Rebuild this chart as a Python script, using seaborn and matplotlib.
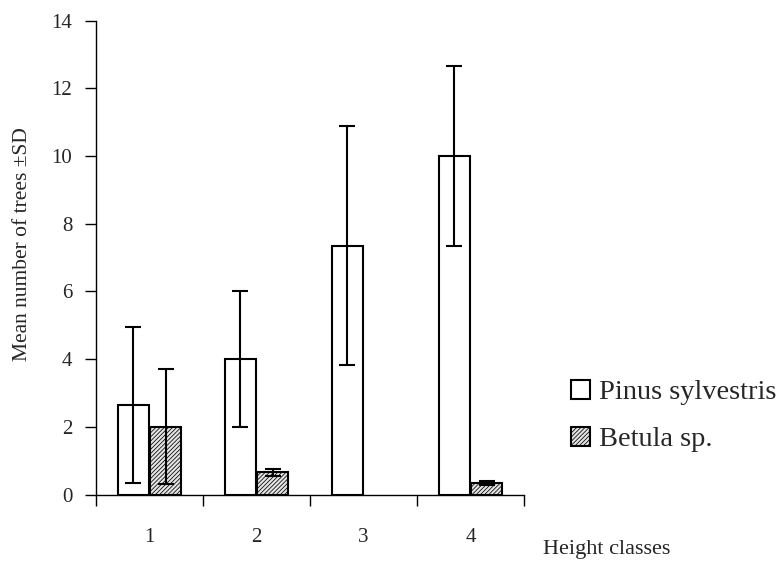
import matplotlib
matplotlib.use("Agg")
import matplotlib.pyplot as plt
import seaborn as sns
import pandas as pd
import numpy as np

# ---- data ----
height_classes = ["1", "2", "3", "4"]
species = ["Pinus sylvestris", "Betula sp."]
pinus_mean = [2.65, 4.0, 7.35, 10.0]
pinus_sd = [2.3, 2.0, 3.52, 2.67]
betula_mean = [2.0, 0.65, 0.0, 0.33]
betula_sd = [1.7, 0.1, 0.0, 0.06]

df = pd.DataFrame({
    "Height classes": height_classes * 2,
    "Species": [species[0]] * 4 + [species[1]] * 4,
    "Mean": pinus_mean + betula_mean,
})
sds = {species[0]: pinus_sd, species[1]: betula_sd}

sns.set_theme(style="ticks")
plt.rcParams["font.family"] = ["Liberation Serif", "DejaVu Serif"]
plt.rcParams["hatch.linewidth"] = 0.55
plt.rcParams["hatch.color"] = "#6a6a6a"

fig = plt.figure(figsize=(7.83, 5.63), dpi=100)
ax = fig.add_axes([96 / 783, 1 - 494.5 / 563, 428 / 783, 474 / 563])

sns.barplot(data=df, x="Height classes", y="Mean", hue="Species",
            hue_order=species, order=height_classes,
            palette=["white", "#e4e4e4"], width=0.6, gap=0.06,
            edgecolor="black", linewidth=1.5, errorbar=None,
            legend=False, ax=ax)

for cont, sp in zip(ax.containers, species):
    for bar, sd in zip(cont, sds[sp]):
        if sp == species[1]:
            bar.set_hatch("////////")
        h = bar.get_height()
        if h <= 0:
            bar.set_linewidth(0)
            continue
        xc = bar.get_x() + bar.get_width() / 2
        ax.errorbar(xc, h, yerr=sd, fmt="none", ecolor="black",
                    elinewidth=1.5, capsize=5.5, capthick=1.5, zorder=5)

ax.set_ylim(0, 14)
ax.set_yticks(np.arange(0, 15, 2))
ax.set_xlim(-0.5, 3.5)
ax.set_xticks(np.arange(-0.5, 4, 1), minor=True)
ax.tick_params(axis="x", which="major", length=0, pad=24, labelsize=15)
ax.tick_params(axis="x", which="minor", length=8, width=1, direction="out", color="black")
ax.tick_params(axis="y", length=8, width=1, direction="out", pad=9, labelsize=15, color="black")
for s in ["top", "right"]:
    ax.spines[s].set_visible(False)
for s in ["left", "bottom"]:
    ax.spines[s].set_color("black")
    ax.spines[s].set_linewidth(1.0)

ax.set_ylabel("Mean number of trees ±SD", fontsize=15.5)
ax.yaxis.set_label_coords(-0.15, 0.528)
ax.set_xlabel("Height classes", fontsize=16)
ax.xaxis.set_label_coords(1.194, -0.117)
ax.xaxis.label.set_verticalalignment("center")

handles = [ax.containers[0][0], ax.containers[1][0]]
fig.legend(handles, species, loc="center left",
           bbox_to_anchor=(571 / 783, 1 - 416 / 563), frameon=False,
           fontsize=20.5, handlelength=0.65, handleheight=0.65,
           handletextpad=0.35, labelspacing=0.75, borderpad=0, borderaxespad=0)

fig.savefig("out.png", dpi=100)
